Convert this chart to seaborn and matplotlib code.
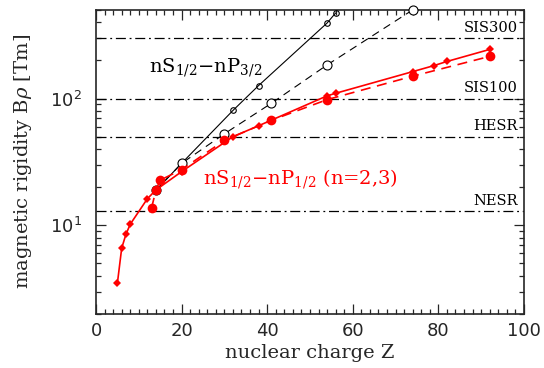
import matplotlib
matplotlib.use("Agg")
import matplotlib.pyplot as plt
import seaborn as sns
import pandas as pd
from matplotlib.ticker import MultipleLocator, LogLocator, NullFormatter

# nS1/2 - nP1/2, n=2 (solid, diamonds)
z_n2 = [5, 6, 7, 8, 12, 14, 20, 32, 38, 54, 56, 74, 79, 82, 92]
b_n2 = [3.5, 6.6, 8.5, 10.2, 16.2, 19, 26.5, 50, 61, 105, 110, 163, 182, 196, 244]
# nS1/2 - nP1/2, n=3 (dashed, circles)
z_n3 = [13, 14, 15, 20, 30, 41, 54, 74, 92]
b_n3 = [13.8, 18.9, 22.7, 27.5, 46.7, 67.4, 98, 150, 215]
# nS1/2 - nP3/2 (black)
z_p32_a = [14, 20, 32, 38, 54, 56]
b_p32_a = [18.9, 30.8, 80.5, 126.6, 394, 473]
z_p32_b = [14, 20, 30, 41, 54, 74]
b_p32_b = [18.9, 30.8, 52.7, 91.8, 184, 500]

rings = ["SIS300", "SIS100", "HESR", "NESR"]
ring_b = [300, 100, 50, 13]

sns.set_style("ticks")
plt.rcParams["font.family"] = ["DejaVu Serif"]
plt.rcParams["mathtext.fontset"] = "dejavuserif"

fig, ax = plt.subplots(figsize=(5.44, 3.68), dpi=100)
fig.subplots_adjust(left=0.1765, right=0.963, top=0.973, bottom=0.147)

dd = (0, (8, 3, 1.5, 3))
for name, b in zip(rings, ring_b):
    ax.axhline(b, color="black", lw=0.9, ls=dd, zorder=1)
    ax.text(98.5, b * 1.06, name, ha="right", va="bottom", fontsize=10.5, color="black")

sns.lineplot(x=z_p32_a, y=b_p32_a, ax=ax, color="black", lw=0.8, marker="o",
             markersize=4, markerfacecolor="none", markeredgecolor="black",
             markeredgewidth=0.8, sort=False, zorder=3)
sns.lineplot(x=z_p32_b, y=b_p32_b, ax=ax, color="black", lw=0.8, ls=(0, (7, 5)),
             marker="o", markersize=6.5, markerfacecolor="white",
             markeredgecolor="black", markeredgewidth=0.8, sort=False,
             zorder=3, clip_on=False)
sns.lineplot(x=z_n3, y=b_n3, ax=ax, color="red", lw=1.2, ls=(0, (6, 4)),
             marker="o", markersize=7, markeredgewidth=0, sort=False, zorder=4)
sns.lineplot(x=z_n2, y=b_n2, ax=ax, color="red", lw=1.2, marker="D",
             markersize=4.5, markeredgewidth=0, sort=False, zorder=4)

ax.set_yscale("log")
ax.set_xlim(0, 100)
ax.set_ylim(2, 500)

ax.xaxis.set_major_locator(MultipleLocator(20))
ax.xaxis.set_minor_locator(MultipleLocator(2))
ax.yaxis.set_major_locator(LogLocator(base=10))
ax.yaxis.set_minor_locator(LogLocator(base=10, subs=range(2, 10)))
ax.yaxis.set_minor_formatter(NullFormatter())
ax.tick_params(which="both", direction="in", top=True, right=True, width=0.9)
ax.tick_params(which="major", length=7)
ax.tick_params(which="minor", length=3.5)
ax.tick_params(axis="y", which="major", pad=10)
ax.tick_params(axis="x", which="major", pad=6)
for lab in ax.get_xticklabels() + ax.get_yticklabels():
    lab.set_family("DejaVu Sans")
    lab.set_fontsize(13)
for s in ax.spines.values():
    s.set_linewidth(1.2)

ax.set_xlabel("nuclear charge Z", fontsize=14, labelpad=3)
ax.set_ylabel(r"magnetic rigidity B$\rho$ [Tm]", fontsize=14, labelpad=12)

ax.text(12.5, 160, r"nS$_{1/2}$$-$nP$_{3/2}$", fontsize=14, color="black")
ax.text(25, 21, r"nS$_{1/2}$$-$nP$_{1/2}$ (n=2,3)", fontsize=14, color="red")

plt.savefig("out.png", dpi=100)
